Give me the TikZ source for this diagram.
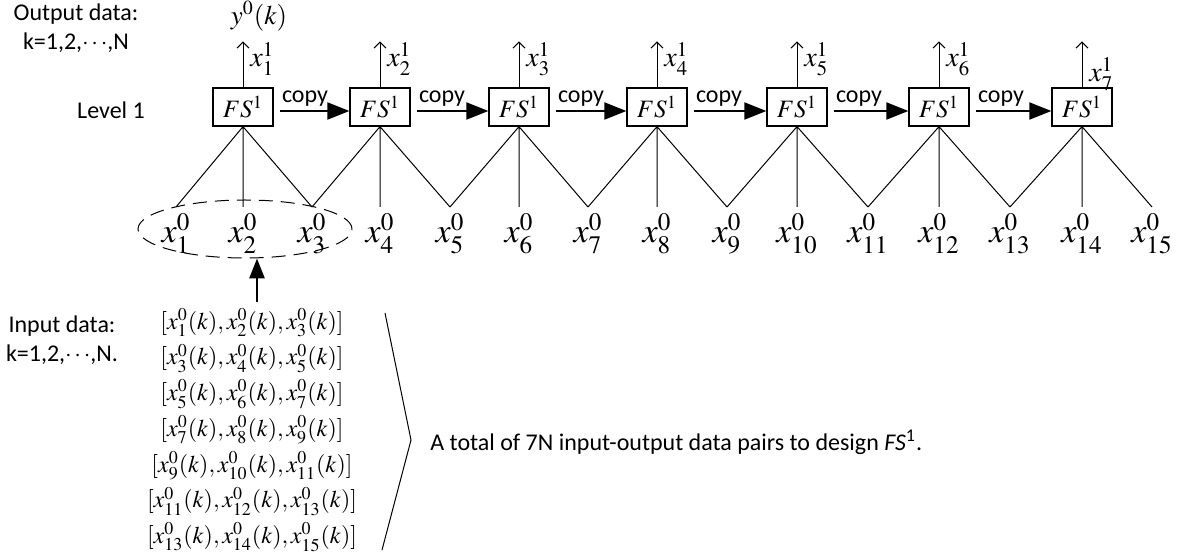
\documentclass[tikz,border=0pt]{standalone}
\usepackage{mathptmx}
\usepackage[no-math]{fontspec}
\setmainfont{Carlito}
\usetikzlibrary{arrows.meta, shapes.geometric}

\begin{document}
\begin{tikzpicture}[
  x = 0.5pt, y = -0.5pt,
  fsbox/.style     = {draw, line width=0.6pt, minimum width=30pt, minimum height=19pt,
                      inner sep=0pt, font=\fontsize{12.5}{14}\selectfont},
  txt/.style       = {font=\fontsize{12}{14.5}\selectfont, inner sep=0pt},
  leaf/.style      = {font=\fontsize{17}{19}\selectfont, anchor=base, inner sep=0pt},
  outx/.style      = {font=\fontsize{14}{16}\selectfont, anchor=base west, inner sep=0pt},
  pairs/.style     = {font=\fontsize{12}{17.85}\selectfont, align=center, inner sep=0pt},
  leg/.style       = {line width=0.5pt},
  copyarrow/.style = {-{Triangle[length=11pt, width=8.5pt]}, line width=1pt},
  outarrow/.style  = {-{Straight Barb[length=3pt, width=6pt]}, line width=0.5pt},
  inarrow/.style   = {-{Triangle[length=10pt, width=7.5pt]}, line width=1.4pt},
]
  \useasboundingbox (0,0) rectangle (1181,560);

  % level 1: seven copies of FS^1
  \foreach \cx/\ly [count=\i] in {243/67, 380/67, 519/67, 657/67, 797/67, 939/67, 1082/82} {
    \node[fsbox] (fs\i) at (\cx,107) {$FS^1$};
    \path (fs\i.north) ++(0,-46) coordinate (o\i);
    \draw[outarrow] (fs\i.north) -- (o\i);
    \node[outx] (ox\i) at (\cx+7,\ly) {$x_{\i}^1$};
  }

  % copy arrows
  \foreach \i/\j in {1/2, 2/3, 3/4, 4/5, 5/6, 6/7} {
    \draw[copyarrow] ([xshift=3pt, yshift=-2pt]fs\i.east) -- ([yshift=-2pt]fs\j.west);
    \node[txt, anchor=base west] (cp\i) at ([xshift=4pt, yshift=2pt]fs\i.east) {copy};
  }

  % level 0 inputs
  \foreach \lx [count=\j] in {176,243,312,380,450,519,588,657,727,797,868,939,1010,1082,1152} {
    \coordinate (t\j) at (\lx,207);
    \node[leaf] (x\j) at (\lx,243) {$x_{\j}^0$};
  }
  \foreach \i [evaluate=\i as \a using int(2*\i-1),
               evaluate=\i as \b using int(2*\i),
               evaluate=\i as \c using int(2*\i+1)] in {1,...,7}
    \draw[leg] (t\a) -- (fs\i.south) -- (t\c) (fs\i.south) -- (t\b);

  \node[draw, ellipse, line width=0.5pt, dash pattern=on 7pt off 4pt,
        minimum width=107pt, minimum height=29pt, inner sep=0pt] (grp) at (245,229) {};

  % training data
  \coordinate (inpt) at (257,302);
  \draw[inarrow] (inpt) -- (inpt |- grp.south);

  \node[pairs] (data) at (252,430) {%
    $[x_1^0(k), x_2^0(k), x_3^0(k)]$\\
    $[x_3^0(k), x_4^0(k), x_5^0(k)]$\\
    $[x_5^0(k), x_6^0(k), x_7^0(k)]$\\
    $[x_7^0(k), x_8^0(k), x_9^0(k)]$\\
    $[x_9^0(k), x_{10}^0(k), x_{11}^0(k)]$\\
    $[x_{11}^0(k), x_{12}^0(k), x_{13}^0(k)]$\\
    $[x_{13}^0(k), x_{14}^0(k), x_{15}^0(k)]$};

  \coordinate (btop) at (385,313);
  \coordinate (btip) at (411,440);
  \coordinate (bbot) at (382,550);
  \draw[leg] (btop) -- (btip) -- (bbot);
  \node[txt, anchor=west] (total) at (430,442)
    {A total of 7N input-output data pairs to design \textit{FS}\textsuperscript{1}.};

  % side labels
  \node[txt, align=center] (outlbl) at (76,28) {Output data:\\k=1,2,$\cdots$,N};
  \node[txt] (lvl) at (111,110) {Level 1};
  \node[txt, align=center] (inlbl) at (62,340) {Input data:\\k=1,2,$\cdots$,N.};
  \node[font=\fontsize{13.5}{16}\selectfont, inner sep=0pt] (y0) at (259,16) {$y^0(k)$};
\end{tikzpicture}
\end{document}
